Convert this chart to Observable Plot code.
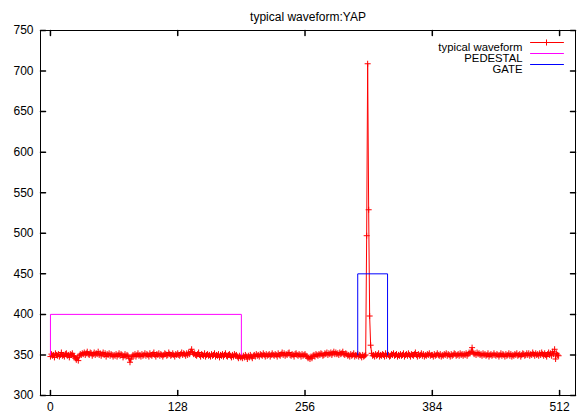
<!DOCTYPE html>
<html><head><meta charset="utf-8">
<script src="https://cdn.jsdelivr.net/npm/d3@7"></script>
<script src="https://cdn.jsdelivr.net/npm/@observablehq/plot@0.6"></script>
<style>html,body{margin:0;padding:0;background:#fff} svg{display:block}</style>
</head><body><div id="chart"></div>
<script>
const title = "typical waveform:YAP";
// ADC value for each sample 0..511
const waveform = [
348,351,349,350,347,352,350,349,351,348,350,353,349,350,348,351,352,349,350,347,351,350,352,349,348,346,344,347,343,349,351,350,
352,351,353,350,352,354,351,350,353,352,349,351,353,350,352,351,354,350,352,349,351,353,350,352,348,351,350,352,349,351,350,348,
350,349,351,348,350,352,349,351,350,347,349,351,348,350,349,346,341,345,348,350,349,351,348,350,352,349,350,348,351,349,350,352,
349,351,350,348,352,350,349,351,353,350,348,351,350,352,349,351,350,348,350,352,351,349,350,353,351,349,350,352,350,348,351,350,
352,350,349,351,353,350,352,351,349,352,350,353,351,354,357,353,351,352,350,349,351,353,350,348,351,350,349,352,348,350,351,349,
350,348,351,349,350,352,348,350,349,351,347,350,349,351,348,350,352,349,348,350,351,349,347,350,348,351,349,350,348,346,349,347,
348,346,349,347,350,348,345,349,347,350,348,346,349,350,348,351,349,350,348,351,350,349,352,350,348,351,349,350,351,348,350,352,
350,349,351,350,348,352,350,349,351,353,350,352,349,351,350,352,353,350,349,351,350,348,351,352,350,349,351,350,348,351,349,350,
351,349,348,346,347,345,348,346,349,350,348,351,350,349,351,350,352,351,349,350,352,351,353,350,352,351,353,350,352,354,351,353,
351,352,350,353,351,352,354,351,350,352,351,349,350,348,351,349,350,352,348,350,349,351,348,350,349,347,350,348,349,350,497,709,
529,398,362,352,349,350,348,351,349,350,352,348,350,349,351,350,348,352,349,351,350,348,349,351,350,352,349,350,351,348,350,349,
351,349,350,352,348,350,351,349,352,350,348,351,350,349,351,353,350,348,351,349,350,352,349,351,348,350,349,351,350,352,349,350,
350,348,351,349,350,352,350,349,351,348,350,349,351,350,352,349,351,350,348,351,349,350,352,351,349,350,351,349,352,350,351,349,
351,350,352,349,351,353,352,354,359,353,351,352,350,353,351,352,350,351,349,352,350,351,349,350,352,348,350,351,349,350,352,350,
349,351,350,348,350,352,349,351,350,348,351,349,350,352,349,351,348,350,349,351,350,352,349,350,351,348,350,352,351,349,350,352,
350,352,349,351,350,353,351,349,352,350,351,349,352,350,353,351,349,352,350,348,351,353,350,352,349,354,351,357,345,352,350,349
];
const pedestalX = [0, 0, 192, 192];
const pedestalY = [350, 400, 400, 350];
const gateX = [309, 309, 339, 339];
const gateY = [350, 450, 450, 350];
const xTicks = [0, 128, 256, 384, 512];
const yTicks = [300, 350, 400, 450, 500, 550, 600, 650, 700, 750];
const legendLabels = ["typical waveform", "PEDESTAL", "GATE"];
const legendColors = ["#ff0000", "#ff00ff", "#0000ff"];

const tickShape = {draw(ctx, l) { ctx.moveTo(0, 0); ctx.lineTo(0, -l); }};
const idx = waveform.map((d, i) => i);
const plusR = 2.1;

const legendMarks = [];
legendLabels.forEach((lab, i) => {
  const dy = 12 + 11 * i;
  legendMarks.push(Plot.text([lab], {frameAnchor: "top-right", text: d => d, dx: -53, dy, textAnchor: "end", fill: "black", fontSize: 11.3}));
  legendMarks.push(Plot.vector([lab], {frameAnchor: "top-right", rotate: 90, length: 33, anchor: "end", dx: -12, dy, shape: tickShape, stroke: legendColors[i], strokeWidth: 1}));
  if (i === 0) legendMarks.push(Plot.dot([lab], {frameAnchor: "top-right", dx: -29, dy, symbol: "plus", r: plusR, stroke: legendColors[i], strokeWidth: 1}));
});

const chart = Plot.plot({
  width: 579,
  height: 415,
  marginLeft: 40,
  marginRight: 4,
  marginTop: 30,
  marginBottom: 20,
  style: {fontFamily: "'Liberation Sans', Arial, sans-serif", fontSize: "12px", background: "#fff"},
  x: {domain: [-10, 528]},
  y: {domain: [300, 750]},
  marks: [
    Plot.line(idx, {x: i => i, y: i => waveform[i], stroke: "#ff0000", strokeWidth: 1}),
    Plot.dot(idx, {x: i => i, y: i => waveform[i], symbol: "plus", r: plusR, stroke: "#ff0000", strokeWidth: 1}),
    Plot.line(pedestalX.map((d, i) => i), {x: i => pedestalX[i], y: i => pedestalY[i], stroke: "#ff00ff", strokeWidth: 1}),
    Plot.line(gateX.map((d, i) => i), {x: i => gateX[i], y: i => gateY[i], stroke: "#0000ff", strokeWidth: 1}),
    Plot.axisX({ticks: xTicks, tickSize: 0, tickPadding: 7, label: null, fill: "black"}),
    Plot.axisY({ticks: yTicks, tickSize: 0, tickPadding: 7, label: null, fill: "black"}),
    Plot.vector(yTicks, {y: d => d, frameAnchor: "left", rotate: 90, length: 5, anchor: "start", shape: tickShape, stroke: "black"}),
    Plot.vector(yTicks, {y: d => d, frameAnchor: "right", rotate: 270, length: 5, anchor: "start", shape: tickShape, stroke: "black"}),
    Plot.vector(xTicks, {x: d => d, frameAnchor: "bottom", rotate: 0, length: 5, anchor: "start", shape: tickShape, stroke: "black"}),
    Plot.vector(xTicks, {x: d => d, frameAnchor: "top", rotate: 180, length: 5, anchor: "start", shape: tickShape, stroke: "black"}),
    Plot.frame({stroke: "black", strokeWidth: 1}),
    Plot.text([title], {frameAnchor: "top", dy: -18, text: d => d, fill: "black"}),
    ...legendMarks
  ]
});
document.getElementById("chart").appendChild(chart);
</script>
</body></html>
